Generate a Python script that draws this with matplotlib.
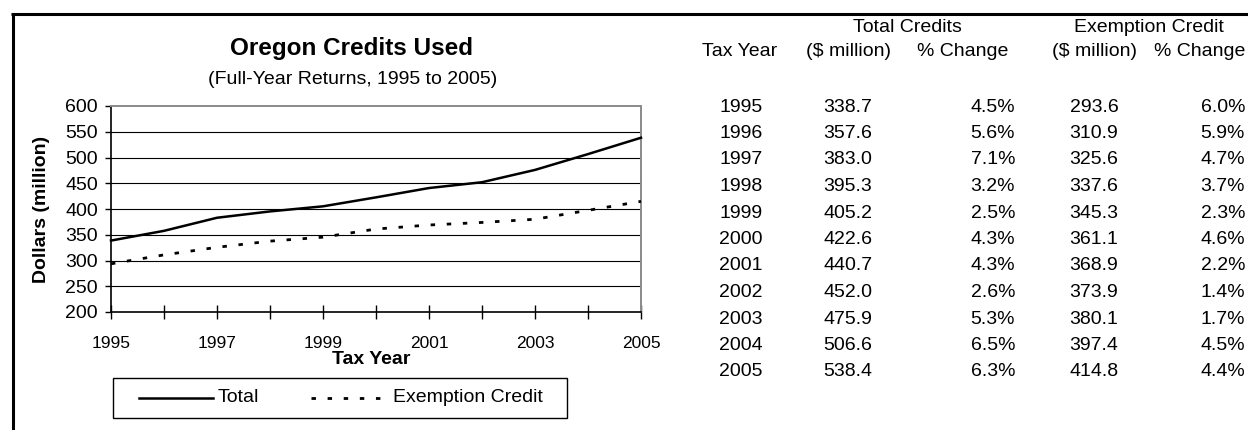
import matplotlib
matplotlib.use("Agg")
import matplotlib.pyplot as plt
from matplotlib import font_manager
from matplotlib.lines import Line2D
from matplotlib.patches import Rectangle

# ---------------- data ----------------
years = [1995, 1996, 1997, 1998, 1999, 2000, 2001, 2002, 2003, 2004, 2005]
total = [338.7, 357.6, 383.0, 395.3, 405.2, 422.6, 440.7, 452.0, 475.9, 506.6, 538.4]
total_pct = [4.5, 5.6, 7.1, 3.2, 2.5, 4.3, 4.3, 2.6, 5.3, 6.5, 6.3]
exempt = [293.6, 310.9, 325.6, 337.6, 345.3, 361.1, 368.9, 373.9, 380.1, 397.4, 414.8]
exempt_pct = [6.0, 5.9, 4.7, 3.7, 2.3, 4.6, 2.2, 1.4, 1.7, 4.5, 4.4]
y_ticks = [200, 250, 300, 350, 400, 450, 500, 550, 600]
x_labels = ["1995", "", "1997", "", "1999", "", "2001", "", "2003", "", "2005"]
series_names = ["Total", "Exemption Credit"]

# ---------------- fonts ----------------
avail = {f.name for f in font_manager.fontManager.ttflist}
BASE = "Liberation Sans" if "Liberation Sans" in avail else "DejaVu Sans"
NARROW = "Liberation Sans Narrow" if "Liberation Sans Narrow" in avail else BASE
NARROW_SIZE = 14 if NARROW != BASE else 12.5
plt.rcParams["font.family"] = [BASE, "DejaVu Sans"]

W, H = 1248, 430
DPI = 100
fig = plt.figure(figsize=(W / DPI, H / DPI), dpi=DPI)
fig.patch.set_facecolor("white")


def fx(x):
    return x / W


def fy(y):
    return 1 - y / H


# ---------------- chart ----------------
L, R, T, B = 111, 641, 106, 312
ax = fig.add_axes([fx(L), fy(B), (R - L) / W, (B - T) / H])
ax.set_xlim(1995, 2005)
ax.set_ylim(200, 600)

solid_style = dict(color="black", lw=1.8, linestyle="-")
dot_style = dict(color="black", lw=2.0, linestyle=(0, (1.6, 4.2)))

ax.plot(years, total, **solid_style, zorder=3, clip_on=False)
ax.plot(years, exempt, **dot_style, zorder=3, clip_on=False)

ax.set_yticks(y_ticks)
ax.set_xticks(years)
ax.set_xticklabels(x_labels, fontsize=NARROW_SIZE, family=NARROW)
ax.tick_params(axis="y", direction="out", length=4.5, width=1.0, pad=5, labelsize=14)
ax.tick_params(axis="x", direction="inout", length=9.5, width=1.0, pad=12.5)

for g in y_ticks[1:-1]:
    ax.axhline(g, color="black", lw=0.8, zorder=1)

for s in ("left", "bottom"):
    ax.spines[s].set_color("black")
    ax.spines[s].set_linewidth(1.2)
for s in ("top", "right"):
    ax.spines[s].set_color("#8a8a8a")
    ax.spines[s].set_linewidth(1.4)

# titles and axis labels
fig.text(fx(351), fy(49), "Oregon Credits Used", ha="center", va="center",
         fontsize=17.5, fontweight="bold")
fig.text(fx(353), fy(80), "(Full-Year Returns, 1995 to 2005)", ha="center",
         va="center", fontsize=14)
fig.text(fx(42), fy(209), "Dollars (million)", ha="center", va="center",
         rotation=90, fontsize=14, fontweight="bold")
fig.text(fx(371), fy(360), "Tax Year", ha="center", va="center",
         fontsize=14, fontweight="bold")

# legend box (drawn in figure pixels)
fig.add_artist(Rectangle((fx(113), fy(418)), (567 - 113) / W, (418 - 378) / H,
                         transform=fig.transFigure, facecolor="white",
                         edgecolor="black", lw=1.0))
ly = 398
fig.add_artist(Line2D([fx(139), fx(213)], [fy(ly), fy(ly)],
                      transform=fig.transFigure, **solid_style))
fig.text(fx(218), fy(ly), series_names[0], ha="left", va="center", fontsize=14)
fig.add_artist(Line2D([fx(311), fx(391)], [fy(ly), fy(ly)],
                      transform=fig.transFigure, **dot_style))
fig.text(fx(393), fy(ly), series_names[1], ha="left", va="center", fontsize=14)

# outer border (top and left)
fig.add_artist(Line2D([fx(11), fx(W)], [fy(13.5), fy(13.5)],
                      transform=fig.transFigure, color="black", lw=2.2,
                      solid_capstyle="butt"))
fig.add_artist(Line2D([fx(12.5), fx(12.5)], [fy(12.5), fy(H)],
                      transform=fig.transFigure, color="black", lw=2.2,
                      solid_capstyle="butt"))

# ---------------- table ----------------
FS = 14
fig.text(fx(907), fy(27), "Total Credits", ha="center", va="center", fontsize=FS)
fig.text(fx(1149), fy(27), "Exemption Credit", ha="center", va="center", fontsize=FS)
fig.text(fx(740), fy(52), "Tax Year", ha="center", va="center", fontsize=FS)
fig.text(fx(849), fy(52), "($ million)", ha="center", va="center", fontsize=FS)
fig.text(fx(963), fy(52), "% Change", ha="center", va="center", fontsize=FS)
fig.text(fx(1094), fy(52), "($ million)", ha="center", va="center", fontsize=FS)
fig.text(fx(1245), fy(52), "% Change", ha="right", va="center", fontsize=FS)

for i, yr in enumerate(years):
    y = 107 + i * 26.5
    fig.text(fx(741), fy(y), str(yr), ha="center", va="center", fontsize=FS)
    fig.text(fx(848), fy(y), f"{total[i]:.1f}", ha="center", va="center", fontsize=FS)
    fig.text(fx(1015), fy(y), f"{total_pct[i]:.1f}%", ha="right", va="center", fontsize=FS)
    fig.text(fx(1094), fy(y), f"{exempt[i]:.1f}", ha="center", va="center", fontsize=FS)
    fig.text(fx(1245), fy(y), f"{exempt_pct[i]:.1f}%", ha="right", va="center", fontsize=FS)

fig.savefig("out.png", dpi=DPI)
